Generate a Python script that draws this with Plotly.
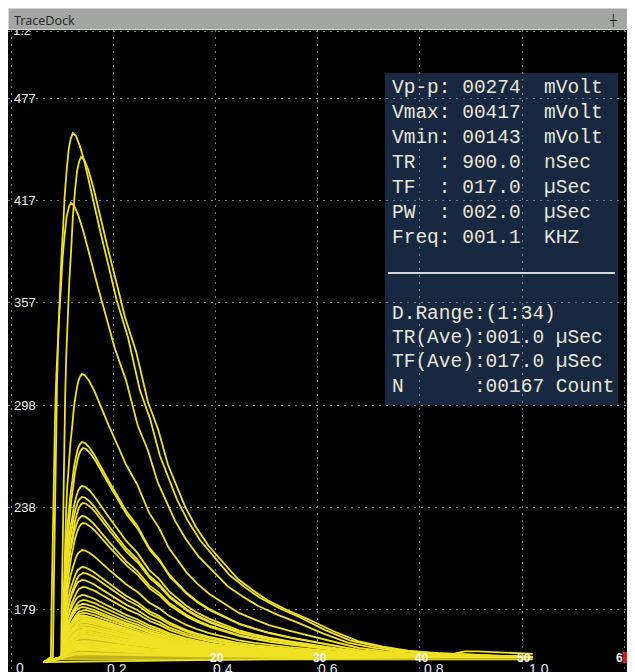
import numpy as np
import plotly.graph_objects as go

# ---------------- data ----------------
# normalised pulse template (time after onset, fraction of peak height)
TEMPLATE_DT = [0.0, 0.002, 0.004, 0.006, 0.008, 0.010, 0.012, 0.014, 0.016, 0.020,
               0.023, 0.027, 0.031, 0.035, 0.039, 0.045, 0.053, 0.063, 0.072, 0.082,
               0.092, 0.108, 0.125, 0.147, 0.170, 0.190, 0.209, 0.243, 0.264, 0.288,
               0.317, 0.346, 0.376, 0.405, 0.444, 0.483, 0.532, 0.581, 0.630, 0.679,
               0.738, 0.796, 0.875, 0.953]
TEMPLATE_F = [0.0, 0.15, 0.30, 0.42, 0.52, 0.60, 0.66, 0.71, 0.75, 0.82,
              0.88, 0.93, 0.97, 0.99, 1.00, 0.995, 0.975, 0.94, 0.90, 0.86,
              0.815, 0.75, 0.68, 0.61, 0.51, 0.455, 0.385, 0.30, 0.26, 0.223,
              0.19, 0.156, 0.133, 0.113, 0.093, 0.076, 0.052, 0.032, 0.021, 0.013,
              0.008, 0.005, 0.002, 0.0]

BASELINE = 151.6          # mV
PRETRIGGER = 148.7        # mV, level at record start
FLOOR_BOTTOM = 150.0      # mV, lower edge of the dense noise band
RECORD_START = 0.064
RECORD_END = 1.021

# dense band of tiny pulses (drawn as a filled envelope)
NOISE_ONSET = 0.098
NOISE_PEAK = 176.0

# pulse onsets and peak levels (mV)
PULSE_ONSET = [0.082, 0.098, 0.078, 0.100, 0.100, 0.102, 0.100, 0.100, 0.102, 0.100,
               0.102, 0.100, 0.100, 0.102, 0.100, 0.102, 0.100, 0.102, 0.100, 0.102,
               0.100, 0.102, 0.100, 0.102, 0.100, 0.102, 0.100, 0.102, 0.100, 0.102,
               0.100, 0.101, 0.103, 0.101, 0.103, 0.101, 0.103, 0.101, 0.103, 0.101,
               0.103, 0.101, 0.103, 0.859]
PULSE_PEAK = [456.6, 442.7, 415.9, 316.4, 276.8, 273.3, 251.2, 244.8, 241.3, 233.7,
              229.6, 213.9, 204.0, 200.5, 196.5, 192.4, 187.7, 184.8, 180.7, 177.3,
              174.3, 172.0, 169.1, 166.8, 164.4, 162.7, 161.0, 159.2, 157.5, 155.8,
              154.1, 182.5, 178.9, 175.6, 173.1, 170.5, 168.0, 165.6, 163.5, 160.2,
              158.3, 156.6, 153.2, 155.0]

# axis tick values / labels
Y_TICKS = [179, 238.6, 298.2, 357.8, 417.4, 477]
Y_LABELS = ["179", "238", "298", "357", "417", "477"]
X_GRID = [0.0, 0.2, 0.4, 0.6, 0.8, 1.0, 1.2]
X_LABELS = ["0.2", "0.4", "0.6", "0.8", "1.0"]
X_LABEL_VALUES = [0.2, 0.4, 0.6, 0.8, 1.0]
TIME_LABELS = ["20", "30", "40", "50"]
TIME_LABEL_VALUES = [0.4, 0.6, 0.8, 1.0]

INFO_TOP = ["Vp-p: 00274  mVolt", "Vmax: 00417  mVolt", "Vmin: 00143  mVolt",
            "TR  : 900.0  nSec", "TF  : 017.0  µSec", "PW  : 002.0  µSec",
            "Freq: 001.1  KHZ"]
INFO_BOTTOM = ["D.Range:(1:34)", "TR(Ave):001.0 µSec", "TF(Ave):017.0 µSec",
               "N      :00167 Count"]

# ---------------- layout helpers ----------------
# the page has an 8px body margin, so the figure starts at page (8, 8)
OFF = 8
PAGE_W, PAGE_H = 635, 672
W, H = PAGE_W - OFF, PAGE_H - OFF
PT = 22                   # plot top inside the figure (page y = 30)
PW, PH = W, H - PT


def xp(px):               # page x -> paper
    return (px - OFF) / PW


def yp(py):               # page y -> paper
    return (PAGE_H - py) / PH


X_RANGE = [-0.0059, 1.2211]
Y_RANGE = [142.9, 516.6]

fig = go.Figure()

tdt = np.array(TEMPLATE_DT)
tf = np.array(TEMPLATE_F)
YELLOW = "#efe124"


def pulse(onset, peak):
    amp = peak - BASELINE
    xs = onset + tdt
    ys = BASELINE + amp * tf
    keep = xs <= RECORD_END
    xs = list(xs[keep])
    ys = list(ys[keep])
    if xs[-1] < RECORD_END:
        xs.append(RECORD_END)
        ys.append(BASELINE + amp * float(np.interp(RECORD_END - onset, tdt, tf)))
    return [RECORD_START] + xs, [PRETRIGGER] + ys


# dense noise band: lower edge then filled envelope
fig.add_trace(go.Scatter(x=[RECORD_START, NOISE_ONSET, RECORD_END],
                         y=[PRETRIGGER, FLOOR_BOTTOM, FLOOR_BOTTOM], mode="lines",
                         line=dict(color=YELLOW, width=1), hoverinfo="skip",
                         showlegend=False))
nx, ny = pulse(NOISE_ONSET, NOISE_PEAK)
fig.add_trace(go.Scatter(x=nx, y=ny, mode="lines", fill="tonexty",
                         fillcolor="rgba(226,208,30,0.85)",
                         line=dict(color=YELLOW, width=1.5), hoverinfo="skip",
                         showlegend=False))

for onset, peak in zip(PULSE_ONSET, PULSE_PEAK):
    xs, ys = pulse(onset, peak)
    fig.add_trace(go.Scatter(x=xs, y=ys, mode="lines",
                             line=dict(color=YELLOW, width=1.8),
                             hoverinfo="skip", showlegend=False))

GRID = "#7c7c7c"
fig.update_xaxes(range=X_RANGE, tickvals=X_GRID, showticklabels=False,
                 showgrid=True, gridcolor=GRID, griddash="2px,5px", gridwidth=1,
                 zeroline=False, showline=False, ticks="")
fig.update_yaxes(range=Y_RANGE, tickvals=Y_TICKS + [516.0], showticklabels=False,
                 showgrid=True, gridcolor=GRID, griddash="2px,5px", gridwidth=1,
                 zeroline=False, showline=False, ticks="")

shapes = [
    # info panel
    dict(type="rect", xref="paper", yref="paper", x0=xp(385), x1=xp(618),
         y0=yp(405), y1=yp(73), fillcolor="#1b2c48", line=dict(width=0),
         layer="between", opacity=0.9),
    dict(type="line", xref="paper", yref="paper", x0=xp(388), x1=xp(615),
         y0=yp(273), y1=yp(273), line=dict(color="#d8d8d8", width=2), layer="above"),
    # red marker at bottom right
    dict(type="rect", xref="paper", yref="paper", x0=xp(623), x1=xp(628),
         y0=yp(663), y1=yp(652), fillcolor="#d41a1a", line=dict(width=0), layer="above"),
]

annotations = []
LABEL_FONT = dict(family="Liberation Sans, Arial", size=13, color="#ececec")
for v, t in zip(Y_TICKS, Y_LABELS):
    annotations.append(dict(x=xp(12), xref="paper", y=v, yref="y", text=t,
                            showarrow=False, xanchor="left", yanchor="middle",
                            font=LABEL_FONT))
# top / bottom corner labels
annotations.append(dict(x=xp(11), xref="paper", y=yp(31), yref="paper", text="1.2",
                        showarrow=False, xanchor="left", yanchor="middle", font=LABEL_FONT))
annotations.append(dict(x=xp(14), xref="paper", y=yp(668), yref="paper", text="0",
                        showarrow=False, xanchor="left", yanchor="middle",
                        font=dict(family="Liberation Sans, Arial", size=14, color="#e8e8e8")))
# lower scale labels (slightly wider spacing than the grid)
for v, t in zip(X_LABEL_VALUES, X_LABELS):
    px = 12 + 527 * v
    annotations.append(dict(x=xp(px), xref="paper", y=yp(669), yref="paper", text=t,
                            showarrow=False, xanchor="center", yanchor="middle",
                            font=dict(family="Liberation Sans, Arial", size=14, color="#e4e4f0")))
# time labels overlapping the baseline
for v, t in zip(TIME_LABEL_VALUES, TIME_LABELS):
    annotations.append(dict(x=v, xref="x", y=yp(658), yref="paper", text="<b>" + t + "</b>",
                            showarrow=False, xanchor="center", yanchor="middle", xshift=2,
                            font=dict(family="Liberation Sans, Arial", size=12, color="#f4f4f4")))
annotations.append(dict(x=xp(619), xref="paper", y=yp(658), yref="paper", text="<b>6</b>",
                        showarrow=False, xanchor="center", yanchor="middle",
                        font=dict(family="Liberation Sans, Arial", size=12, color="#f4f4f4")))

# info panel text
MONO = dict(family="Liberation Mono, Courier New, monospace", size=19.5, color="#e8e6d8")
top_rows = [88, 113, 138, 163, 188, 213, 238]
for py, t in zip(top_rows, INFO_TOP):
    annotations.append(dict(x=xp(390), xref="paper", y=yp(py), yref="paper",
                            text=t.replace(" ", "\u00a0"), showarrow=False,
                            xanchor="left", yanchor="middle", font=MONO))
bottom_rows = [314, 338, 362, 387]
for py, t in zip(bottom_rows, INFO_BOTTOM):
    annotations.append(dict(x=xp(390), xref="paper", y=yp(py), yref="paper",
                            text=t.replace(" ", "\u00a0"), showarrow=False,
                            xanchor="left", yanchor="middle", font=MONO))

# title bar (drawn last so it covers the top label)
annotations.append(dict(x=0, xref="paper", y=yp(30), yref="paper", text=" ",
                        showarrow=False, xanchor="left", yanchor="bottom",
                        width=W, height=20, borderpad=0, bgcolor="#a3a6a3"))
annotations.append(dict(x=xp(12), xref="paper", y=yp(20), yref="paper", text="TraceDock",
                        showarrow=False, xanchor="left", yanchor="middle",
                        font=dict(family="Noto Sans, Open Sans", size=12.5, color="#2b2b2b")))
annotations.append(dict(x=xp(613), xref="paper", y=yp(20), yref="paper", text="<b>┼</b>",
                        showarrow=False, xanchor="center", yanchor="middle",
                        font=dict(family="DejaVu Sans", size=11, color="#222222")))
annotations.append(dict(x=xp(632), xref="paper", y=yp(20), yref="paper", text="×",
                        showarrow=False, xanchor="center", yanchor="middle",
                        font=dict(family="DejaVu Sans", size=12, color="#dddddd")))

fig.update_layout(
    width=W, height=H,
    margin=dict(l=0, r=0, t=PT, b=0, pad=0),
    paper_bgcolor="#ffffff", plot_bgcolor="#000000",
    shapes=shapes, annotations=annotations,
    showlegend=False,
)

fig.write_html("out.html")
